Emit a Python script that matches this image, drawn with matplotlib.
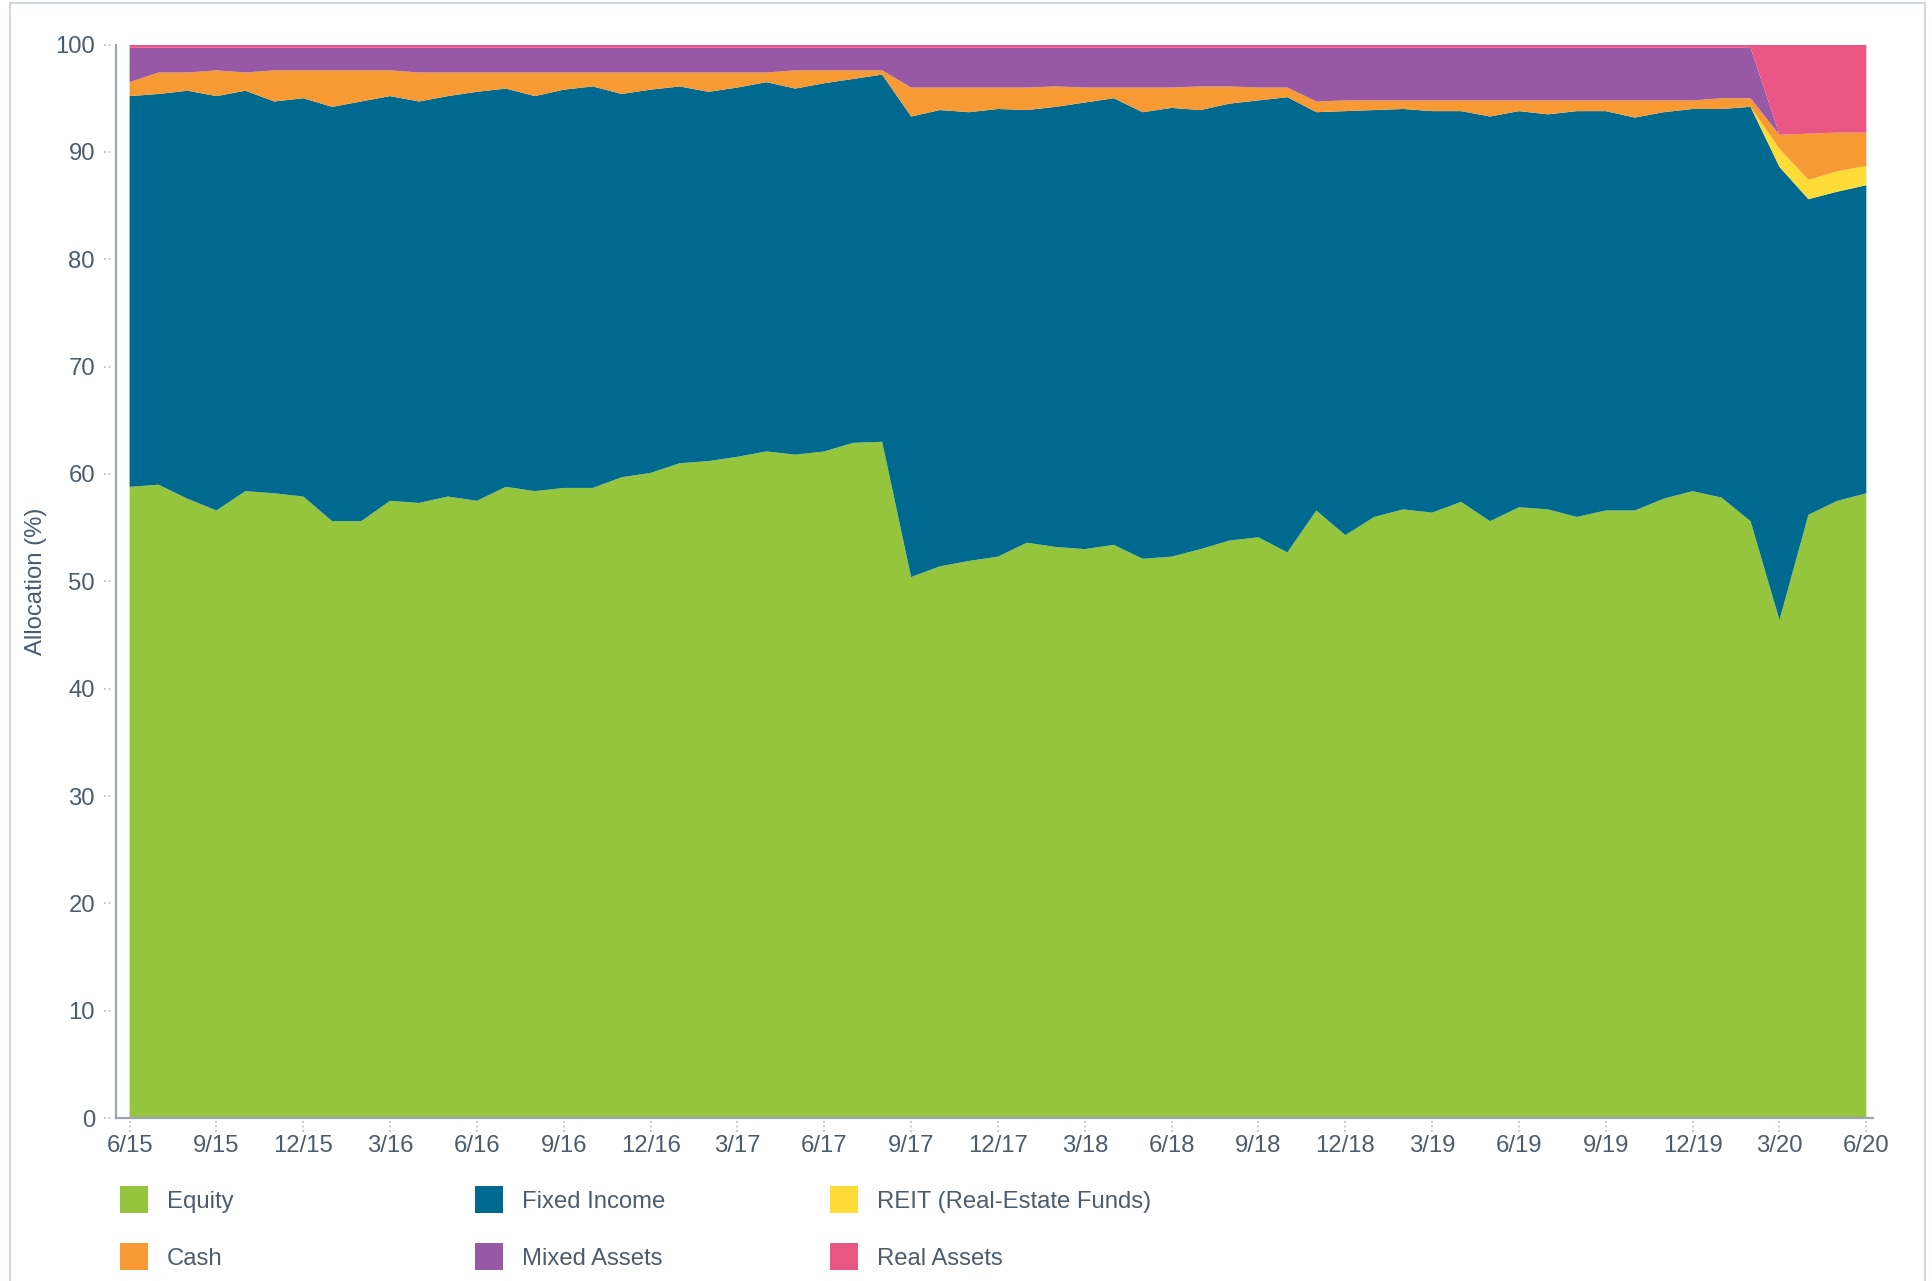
import numpy as np
import pandas as pd
import matplotlib
matplotlib.use("Agg")
import matplotlib.pyplot as plt
import matplotlib.transforms as mtransforms
from matplotlib.lines import Line2D

plt.rcParams['font.family'] = ['Liberation Sans', 'DejaVu Sans']

# monthly allocation, 6/15 .. 6/20 (percent)
months = pd.date_range('2015-06-01', '2020-06-01', freq='MS')
month_labels = [f"{d.month}/{d.year % 100:02d}" for d in months]

equity = [58.8, 59.0, 57.7, 56.6, 58.4, 58.2, 57.9, 55.6, 55.6, 57.5,
          57.3, 57.9, 57.5, 58.8, 58.4, 58.7, 58.7, 59.7, 60.1, 61.0,
          61.2, 61.6, 62.1, 61.8, 62.1, 62.9, 63.0, 50.4, 51.4, 51.9,
          52.3, 53.6, 53.2, 53.0, 53.4, 52.1, 52.3, 53.0, 53.8, 54.1,
          52.7, 56.6, 54.3, 56.0, 56.7, 56.4, 57.4, 55.6, 56.9, 56.7,
          56.0, 56.6, 56.6, 57.7, 58.4, 57.8, 55.6, 46.4, 56.2, 57.5,
          58.2]
fixed_income = [36.4, 36.4, 38.0, 38.6, 37.3, 36.5, 37.1, 38.6, 39.1, 37.7,
                37.4, 37.3, 38.1, 37.1, 36.8, 37.1, 37.4, 35.7, 35.7, 35.1,
                34.4, 34.4, 34.4, 34.1, 34.3, 33.9, 34.2, 42.9, 42.5, 41.8,
                41.7, 40.3, 41.0, 41.6, 41.6, 41.6, 41.8, 40.9, 40.7, 40.7,
                42.4, 37.1, 39.5, 37.9, 37.3, 37.4, 36.4, 37.7, 36.9, 36.8,
                37.8, 37.2, 36.6, 36.0, 35.6, 36.2, 38.6, 42.2, 29.4, 28.8,
                28.7]
reit = [0.0] * 57 + [1.7, 1.8, 1.9, 1.8]
cash = [1.3, 2.0, 1.7, 2.4, 1.7, 2.9, 2.6, 3.4, 2.9, 2.4,
        2.7, 2.2, 1.8, 1.5, 2.2, 1.6, 1.3, 2.0, 1.6, 1.3,
        1.8, 1.4, 0.9, 1.7, 1.2, 0.8, 0.4, 2.7, 2.1, 2.3,
        2.0, 2.1, 1.9, 1.4, 1.0, 2.3, 1.9, 2.2, 1.6, 1.2,
        0.9, 1.0, 1.0, 0.9, 0.8, 1.0, 1.0, 1.5, 1.0, 1.3,
        1.0, 1.0, 1.6, 1.1, 0.8, 1.0, 0.8, 1.3, 4.3, 3.6,
        3.1]
mixed = [3.2, 2.3, 2.3, 2.1, 2.3, 2.1, 2.1, 2.1, 2.1, 2.1,
         2.3, 2.3, 2.3, 2.3, 2.3, 2.3, 2.3, 2.3, 2.3, 2.3,
         2.3, 2.3, 2.3, 2.1, 2.1, 2.1, 2.1, 3.7, 3.7, 3.7,
         3.7, 3.7, 3.6, 3.7, 3.7, 3.7, 3.7, 3.6, 3.6, 3.7,
         3.7, 5.0, 4.9, 4.9, 4.9, 4.9, 4.9, 4.9, 4.9, 4.9,
         4.9, 4.9, 4.9, 4.9, 4.9, 4.7, 4.7, 0.0, 0.0, 0.0,
         0.0]
real_assets = [0.3] * 57 + [8.4, 8.3, 8.2, 8.2]

names = ['Equity', 'Fixed Income', 'REIT (Real-Estate Funds)',
         'Cash', 'Mixed Assets', 'Real Assets']
colors = ['#95c53d', '#00698f', '#fddc38', '#f89a34', '#9759a6', '#ea5684']
text_color = '#4b5c6d'
fs = 17.2

x = np.arange(len(months))

fig = plt.figure(figsize=(19.33, 12.81), dpi=100)
ax = fig.add_axes([0.0599, 0.1272, 0.9089, 0.8380])

polys = ax.stackplot(x, equity, fixed_income, reit, cash, mixed, real_assets,
                     colors=colors, labels=names, linewidth=0)

ax.set_xlim(-0.477, 60.22)
ax.set_ylim(0, 100)
ax.set_xticks(x[::3])
ax.set_xticklabels(month_labels[::3])
ax.set_yticks(range(0, 101, 10))
ax.tick_params(length=0, labelsize=fs, labelcolor=text_color)
ax.tick_params(axis='x', pad=12.5)
ax.tick_params(axis='y', pad=15)

for side in ['top', 'right']:
    ax.spines[side].set_visible(False)
for side in ['left', 'bottom']:
    ax.spines[side].set_color('#9aa6b3')
    ax.spines[side].set_linewidth(1.6)

ax.set_ylabel('Allocation (%)', fontsize=fs, color=text_color)
ax.yaxis.set_label_coords(-0.039, 0.5)

# dotted tick marks
tick_col = '#b9c1cb'
tx = mtransforms.blended_transform_factory(ax.transData, ax.transAxes)
for t in ax.get_xticks():
    ax.plot([t, t], [-0.003, -0.013], transform=tx, color=tick_col, lw=1.3,
            ls=(0, (1, 1.5)), clip_on=False)
ty = mtransforms.blended_transform_factory(ax.transAxes, ax.transData)
for t in ax.get_yticks():
    ax.plot([-0.0068, -0.0015], [t, t], transform=ty, color=tick_col, lw=1.3,
            ls=(0, (1, 1.5)), clip_on=False)

# legend, three columns of two
columns = [(0, 3), (1, 4), (2, 5)]
col_x = [0.0621, 0.2457, 0.4294]
for (a, b), cx in zip(columns, col_x):
    fig.legend(handles=[polys[a], polys[b]], labels=[names[a], names[b]],
               loc='upper left', bbox_to_anchor=(cx, 0.0738), frameon=False,
               fontsize=fs, handlelength=1.17, handleheight=1.36,
               handletextpad=0.8, labelspacing=1.25, borderpad=0,
               borderaxespad=0, labelcolor=text_color)

# light frame round the figure
frame = dict(transform=fig.transFigure, color='#d2d8e0', lw=1.5)
fig.add_artist(Line2D([10 / 1933, 10 / 1933], [0, 1 - 3 / 1281], **frame))
fig.add_artist(Line2D([10 / 1933, 1925 / 1933], [1 - 3 / 1281, 1 - 3 / 1281], **frame))
fig.add_artist(Line2D([1925 / 1933, 1925 / 1933], [0, 1 - 3 / 1281], **frame))

fig.savefig('out.png', dpi=100)
